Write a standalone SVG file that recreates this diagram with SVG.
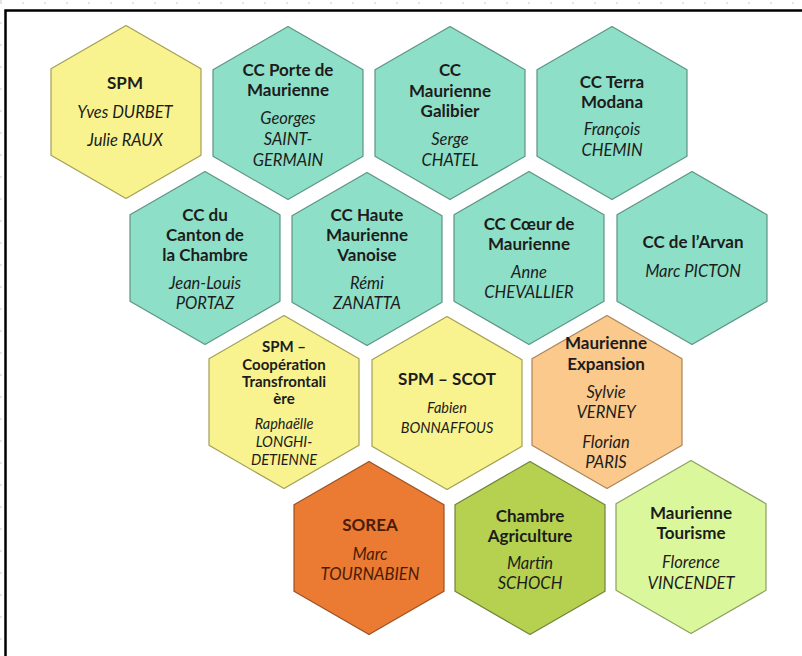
<svg xmlns="http://www.w3.org/2000/svg" xmlns:xlink="http://www.w3.org/1999/xlink" width="802" height="656" viewBox="0 0 802 656">
<style>
.hex{stroke-width:1.2;stroke-linejoin:round}
.teal{fill:#8EDFC7;stroke:#5E9484}
.yel{fill:#F8F38E;stroke:#A39F55}
.ora{fill:#FAC98B;stroke:#A88558}
.sor{fill:#EB7A32;stroke:#9A5124}
.olv{fill:#B5D14F;stroke:#70833A}
.lgr{fill:#DAF79B;stroke:#8BA062}
text{font-family:Lato,"Open Sans","Liberation Sans",sans-serif;text-anchor:middle;fill:#1c1c1c}
.t{font-weight:bold;font-size:17px}
.n{font-style:italic;font-size:16.5px}
.ts{font-weight:bold;font-size:15px}
.ns{font-style:italic;font-size:14.5px}
.brn{fill:#4a1c08}
</style>
<defs>
<polygon id="hx" points="0,-86.5 75,-43.3 75,43.3 0,86.5 -75,43.3 -75,-43.3"/>
</defs>
<rect width="802" height="656" fill="#ffffff"/>
<line x1="0" y1="3" x2="802" y2="3" stroke="#e4e4e4" stroke-width="2" stroke-dasharray="2,20"/>
<line x1="1" y1="0" x2="1" y2="656" stroke="#e4e4e4" stroke-width="2" stroke-dasharray="2,20"/>
<rect x="5.5" y="10.5" width="830" height="700" fill="none" stroke="#000" stroke-width="2.5"/>
<g id="connectors"></g>

<g id="spm"><use xlink:href="#hx" class="hex yel" transform="translate(126,112)"/>
<text class="t" x="125" y="89">SPM</text>
<text class="n" x="125" y="118">Yves DURBET</text>
<text class="n" x="125" y="146">Julie RAUX</text></g>

<g id="cc-porte"><use xlink:href="#hx" class="hex teal" transform="translate(288,113)"/>
<text class="t" x="288" y="76">CC Porte de</text>
<text class="t" x="288" y="96">Maurienne</text>
<text class="n" x="288" y="124">Georges</text>
<text class="n" x="288" y="145">SAINT-</text>
<text class="n" x="288" y="166">GERMAIN</text></g>

<g id="cc-galibier"><use xlink:href="#hx" class="hex teal" transform="translate(450,113)"/>
<text class="t" x="450" y="76">CC</text>
<text class="t" x="450" y="97">Maurienne</text>
<text class="t" x="450" y="117">Galibier</text>
<text class="n" x="450" y="145">Serge</text>
<text class="n" x="450" y="166">CHATEL</text></g>

<g id="cc-terra"><use xlink:href="#hx" class="hex teal" transform="translate(612,113)"/>
<text class="t" x="612" y="88">CC Terra</text>
<text class="t" x="612" y="108">Modana</text>
<text class="n" x="612" y="135">François</text>
<text class="n" x="612" y="156">CHEMIN</text></g>

<g id="cc-canton"><use xlink:href="#hx" class="hex teal" transform="translate(205,258)"/>
<text class="t" x="205" y="221">CC du</text>
<text class="t" x="205" y="241">Canton de</text>
<text class="t" x="205" y="261">la Chambre</text>
<text class="n" x="205" y="289">Jean-Louis</text>
<text class="n" x="205" y="309">PORTAZ</text></g>

<g id="cc-haute"><use xlink:href="#hx" class="hex teal" transform="translate(367,259)"/>
<text class="t" x="367" y="221">CC Haute</text>
<text class="t" x="367" y="241">Maurienne</text>
<text class="t" x="367" y="261">Vanoise</text>
<text class="n" x="367" y="289">Rémi</text>
<text class="n" x="367" y="309">ZANATTA</text></g>

<g id="cc-coeur"><use xlink:href="#hx" class="hex teal" transform="translate(529,258)"/>
<text class="t" x="529" y="230">CC Cœur de</text>
<text class="t" x="529" y="250">Maurienne</text>
<text class="n" x="529" y="278">Anne</text>
<text class="n" x="529" y="298">CHEVALLIER</text></g>

<g id="cc-arvan"><use xlink:href="#hx" class="hex teal" transform="translate(692,258)"/>
<text class="t" x="693" y="248">CC de l’Arvan</text>
<text class="n" x="693" y="277">Marc PICTON</text></g>

<g id="spm-coop"><use xlink:href="#hx" class="hex yel" transform="translate(284,402)"/>
<text class="ts" x="284" y="352">SPM –</text>
<text class="ts" x="284" y="370">Coopération</text>
<text class="ts" x="284" y="387">Transfrontali</text>
<text class="ts" x="284" y="404">ère</text>
<text class="ns" x="284" y="429">Raphaëlle</text>
<text class="ns" x="284" y="447">LONGHI-</text>
<text class="ns" x="284" y="465">DETIENNE</text></g>

<g id="spm-scot"><use xlink:href="#hx" class="hex yel" transform="translate(447,403)"/>
<text class="t" x="447" y="385">SPM – SCOT</text>
<text class="ns" x="447" y="413">Fabien</text>
<text class="ns" x="447" y="433">BONNAFFOUS</text></g>

<g id="maurienne-expansion"><use xlink:href="#hx" class="hex ora" transform="translate(607,402)"/>
<text class="t" x="606" y="349">Maurienne</text>
<text class="t" x="606" y="370">Expansion</text>
<text class="n" x="606" y="398">Sylvie</text>
<text class="n" x="606" y="418">VERNEY</text>
<text class="n" x="606" y="448">Florian</text>
<text class="n" x="606" y="468">PARIS</text></g>

<g id="sorea"><use xlink:href="#hx" class="hex sor" transform="translate(369,548)"/>
<text class="t brn" x="370" y="531">SOREA</text>
<text class="n brn" x="370" y="560">Marc</text>
<text class="n brn" x="370" y="580">TOURNABIEN</text></g>

<g id="chambre-agriculture"><use xlink:href="#hx" class="hex olv" transform="translate(530,548)"/>
<text class="t" x="530" y="522">Chambre</text>
<text class="t" x="530" y="542">Agriculture</text>
<text class="n" x="530" y="569">Martin</text>
<text class="n" x="530" y="589">SCHOCH</text></g>

<g id="maurienne-tourisme"><use xlink:href="#hx" class="hex lgr" transform="translate(691,547)"/>
<text class="t" x="691" y="519">Maurienne</text>
<text class="t" x="691" y="539">Tourisme</text>
<text class="n" x="691" y="568">Florence</text>
<text class="n" x="691" y="589">VINCENDET</text></g>
</svg>
